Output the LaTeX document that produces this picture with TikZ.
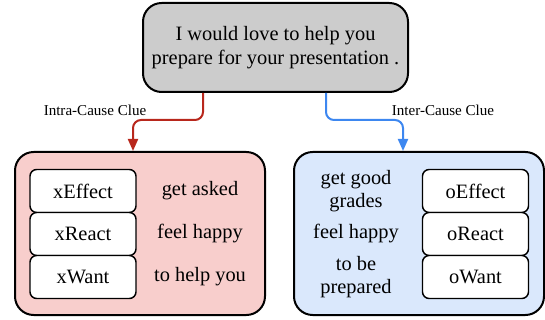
\documentclass[tikz,border=0pt]{standalone}
\usepackage{fontspec}
\setmainfont{Liberation Serif}
\usetikzlibrary{arrows.meta}

\definecolor{sentgray}{HTML}{CCCCCC}
\definecolor{intrafill}{HTML}{F8CECC}
\definecolor{interfill}{HTML}{DAE8FC}
\definecolor{intraline}{HTML}{B8271C}
\definecolor{interline}{HTML}{3D87F0}

\tikzset{
  panel/.style={draw, line width=1.5pt, rounded corners=14pt, inner sep=0pt},
  relbox/.style={draw, fill=white, line width=1.1pt, rounded corners=5pt,
    minimum width=79.5pt, minimum height=32.25pt, inner sep=0pt,
    font=\fontsize{15.3}{18}\selectfont},
  filler/.style={align=center, inner sep=0pt, font=\fontsize{15.3}{17}\selectfont},
  cluelabel/.style={font=\fontsize{11.3}{13}\selectfont},
  clue/.style={line width=1.5pt, rounded corners=6pt, -{Triangle[length=9pt,width=7.5pt]}},
}

\begin{document}
\begin{tikzpicture}[x=0.75pt, y=-0.75pt]
  \useasboundingbox (0,0) rectangle (545,320);

  % utterance
  \node[panel, fill=sentgray, minimum width=198.75pt, minimum height=66.75pt,
    align=center, font=\fontsize{15.3}{18}\selectfont] (sent) at (275.5,47.5)
    {I would love to help you\\prepare for your presentation .};

  % the two clue panels
  \node[panel, fill=intrafill, minimum width=187.5pt, minimum height=122.25pt] (intra) at (140,233.5) {};
  \node[panel, fill=interfill, minimum width=187.5pt, minimum height=122.25pt] (inter) at (419,233.5) {};

  \draw[clue, intraline] (sent.south -| 203,0) -- (203,120) -- (133,120) -- (intra.north -| 133,0);
  \draw[clue, interline] (sent.south -| 326,0) -- (326,120) -- (403,120) -- (inter.north -| 403,0);

  \node[cluelabel] (intralabel) at (95,110) {Intra-Cause Clue};
  \node[cluelabel] (interlabel) at (443,110) {Inter-Cause Clue};

  \foreach \rel/\txt [count=\i] in {Effect/get asked, React/feel happy, Want/to help you} {
    \node[relbox] (x\rel) at (83,148+43*\i) {x\rel};
    \node[filler] (xt\rel) at (200,148+43*\i) {\txt};
  }

  \foreach \rel/\txt [count=\i] in {Effect/{get good\\grades}, React/feel happy, Want/{to be\\prepared}} {
    \node[relbox] (o\rel) at (475.5,148+43*\i) {o\rel};
    \node[filler] (ot\rel) at (356,148+43*\i) {\txt};
  }
\end{tikzpicture}
\end{document}
